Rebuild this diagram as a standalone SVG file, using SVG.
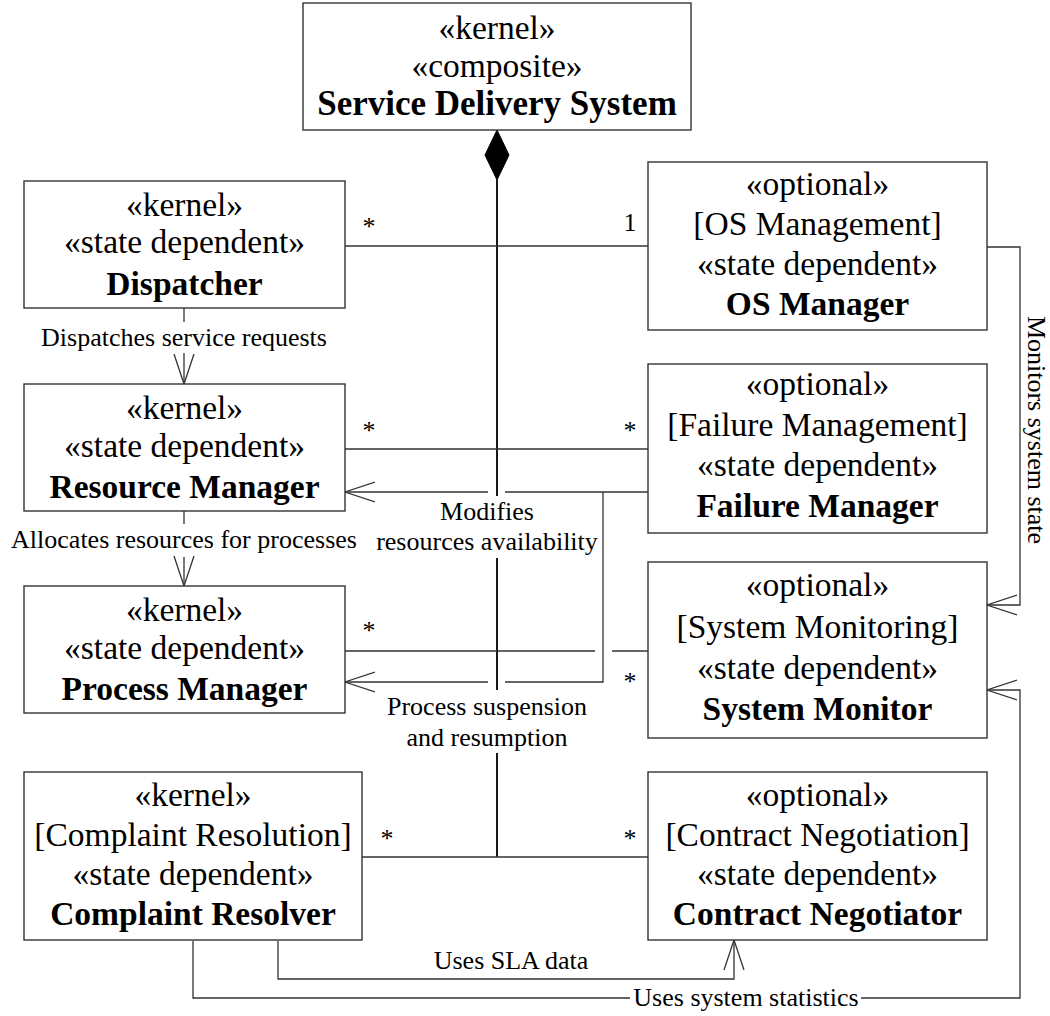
<svg xmlns="http://www.w3.org/2000/svg" width="1050" height="1016" viewBox="0 0 1050 1016" font-family="Liberation Serif, Times New Roman, serif">
  <style>
    .box { fill: #fff; stroke: #333; stroke-width: 1.4; }
    .t { font-size: 33.5px; text-anchor: middle; fill: #000; }
    .b { font-weight: bold; }
    .lbl { font-size: 26px; text-anchor: middle; fill: #000; }
    .ln { fill: none; stroke: #333; stroke-width: 1.3; }
    .comp { fill: none; stroke: #000; stroke-width: 1.8; }
    .arr { fill: none; stroke: #333; stroke-width: 1.3; marker-end: url(#open); }
  </style>
  <defs>
    <marker id="open" markerUnits="userSpaceOnUse" markerWidth="34" markerHeight="24" refX="30" refY="11" orient="auto">
      <path d="M0,1 L30,11 L0,21" fill="none" stroke="#333" stroke-width="1.3"/>
    </marker>
  </defs>
  <rect width="1050" height="1016" fill="#fff"/>

  <!-- connectors -->
  <g id="connectors">
    <!-- composition: Service Delivery System owns the parts -->
    <path d="M497,130 L509,155 L497,180 L485,155 Z" fill="#000" stroke="#000" stroke-width="1"/>
    <path class="comp" d="M497,180 V496"/>
    <path class="comp" d="M497,558 V690"/>
    <path class="comp" d="M497,753 V857"/>

    <!-- Dispatcher * —— 1 OS Manager -->
    <path class="ln" d="M345,246 H648"/>
    <!-- Resource Manager * —— * Failure Manager -->
    <path class="ln" d="M345,449 H648"/>
    <!-- Process Manager * —— * System Monitor -->
    <path class="ln" d="M345,651 H595"/>
    <path class="ln" d="M612,651 H648"/>
    <!-- Complaint Resolver * —— * Contract Negotiator -->
    <path class="ln" d="M362,857 H648"/>

    <!-- Dispatches service requests -->
    <path class="ln" d="M184,308 V322"/>
    <path class="arr" d="M184,353 V384"/>
    <!-- Allocates resources for processes -->
    <path class="ln" d="M184,511 V524"/>
    <path class="arr" d="M184,557 V586"/>

    <!-- Failure Manager -> Resource Manager -->
    <path class="ln" d="M648,492 H505"/>
    <path class="arr" d="M488,492 H345"/>
    <!-- Failure Manager -> Process Manager -->
    <path class="ln" d="M603,492 V682 H505"/>
    <path class="arr" d="M488,682 H345"/>

    <!-- OS Manager -> System Monitor -->
    <path class="arr" d="M987,247 H1020 V605 H987"/>

    <!-- Complaint Resolver -> Contract Negotiator -->
    <path class="arr" d="M278,941 V979 H734 V940"/>

    <!-- Complaint Resolver -> System Monitor -->
    <path class="ln" d="M193,941 V998 H630"/>
    <path class="arr" d="M861,998 H1020 V690 H987"/>
  </g>

  <!-- connector labels and multiplicities -->
  <g id="labels">
    <text class="lbl" x="184" y="346">Dispatches service requests</text>
    <text class="lbl" x="184" y="548">Allocates resources for processes</text>
    <text class="lbl" x="487" y="520">Modifies</text>
    <text class="lbl" x="487" y="550">resources availability</text>
    <text class="lbl" x="487" y="715">Process suspension</text>
    <text class="lbl" x="487" y="746">and resumption</text>
    <text class="lbl" x="511" y="969">Uses SLA data</text>
    <text class="lbl" x="746" y="1006">Uses system statistics</text>
    <text class="lbl" transform="translate(1028,430) rotate(90)">Monitors system state</text>

    <text class="lbl" x="369" y="235">*</text>
    <text class="lbl" x="630" y="231">1</text>
    <text class="lbl" x="369" y="439">*</text>
    <text class="lbl" x="630" y="439">*</text>
    <text class="lbl" x="369" y="639">*</text>
    <text class="lbl" x="630" y="690">*</text>
    <text class="lbl" x="387" y="847">*</text>
    <text class="lbl" x="630" y="847">*</text>
  </g>

  <!-- nodes -->
  <g id="service-delivery-system">
    <rect class="box" x="303" y="3" width="388" height="127"/>
    <text class="t" x="497" y="39">«kernel»</text>
    <text class="t" x="497" y="77">«composite»</text>
    <text class="t b" x="497" y="115" style="font-size:35px">Service Delivery System</text>
  </g>

  <g id="dispatcher">
    <rect class="box" x="24" y="181" width="321" height="127"/>
    <text class="t" x="184.5" y="216">«kernel»</text>
    <text class="t" x="184.5" y="253">«state dependent»</text>
    <text class="t b" x="184.5" y="295">Dispatcher</text>
  </g>

  <g id="os-manager">
    <rect class="box" x="648" y="162" width="339" height="168"/>
    <text class="t" x="817.5" y="195">«optional»</text>
    <text class="t" x="817.5" y="235">[OS Management]</text>
    <text class="t" x="817.5" y="275">«state dependent»</text>
    <text class="t b" x="817.5" y="315">OS Manager</text>
  </g>

  <g id="resource-manager">
    <rect class="box" x="24" y="384" width="321" height="127"/>
    <text class="t" x="184.5" y="419">«kernel»</text>
    <text class="t" x="184.5" y="457">«state dependent»</text>
    <text class="t b" x="184.5" y="498">Resource Manager</text>
  </g>

  <g id="failure-manager">
    <rect class="box" x="648" y="364" width="339" height="169"/>
    <text class="t" x="817.5" y="395">«optional»</text>
    <text class="t" x="817.5" y="436">[Failure Management]</text>
    <text class="t" x="817.5" y="476">«state dependent»</text>
    <text class="t b" x="817.5" y="517">Failure Manager</text>
  </g>

  <g id="process-manager">
    <rect class="box" x="24" y="586" width="321" height="127"/>
    <text class="t" x="184.5" y="621">«kernel»</text>
    <text class="t" x="184.5" y="659">«state dependent»</text>
    <text class="t b" x="184.5" y="700">Process Manager</text>
  </g>

  <g id="system-monitor">
    <rect class="box" x="648" y="562" width="339" height="176"/>
    <text class="t" x="817.5" y="596">«optional»</text>
    <text class="t" x="817.5" y="638">[System Monitoring]</text>
    <text class="t" x="817.5" y="679">«state dependent»</text>
    <text class="t b" x="817.5" y="720">System Monitor</text>
  </g>

  <g id="complaint-resolver">
    <rect class="box" x="24" y="772" width="338" height="168"/>
    <text class="t" x="193" y="806">«kernel»</text>
    <text class="t" x="193" y="846">[Complaint Resolution]</text>
    <text class="t" x="193" y="885">«state dependent»</text>
    <text class="t b" x="193" y="925">Complaint Resolver</text>
  </g>

  <g id="contract-negotiator">
    <rect class="box" x="648" y="772" width="339" height="168"/>
    <text class="t" x="817.5" y="806">«optional»</text>
    <text class="t" x="817.5" y="846">[Contract Negotiation]</text>
    <text class="t" x="817.5" y="885">«state dependent»</text>
    <text class="t b" x="817.5" y="925">Contract Negotiator</text>
  </g>
</svg>
